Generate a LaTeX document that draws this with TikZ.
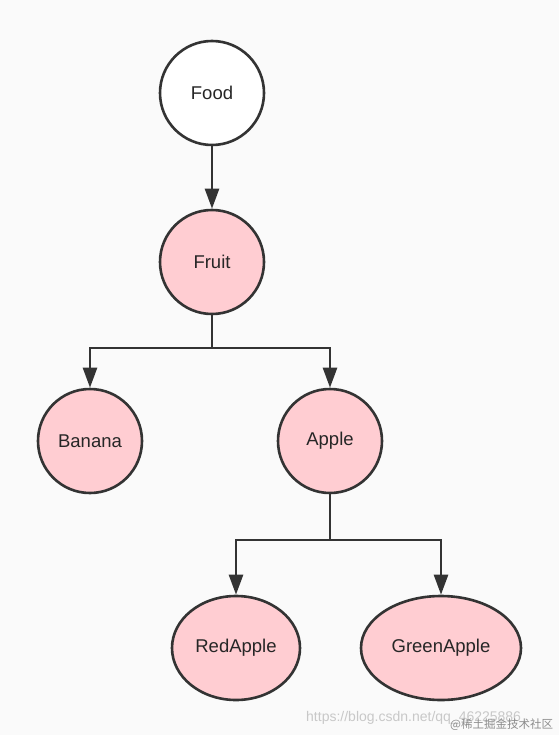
\documentclass[tikz,border=0pt]{standalone}
\usepackage{fontspec}
\setmainfont{Liberation Sans}
\newfontfamily\cjk{Noto Sans CJK SC}
\usetikzlibrary{shapes.geometric,arrows.meta}
\definecolor{bg}{RGB}{250,250,250}
\definecolor{pinkfill}{RGB}{255,205,210}
\definecolor{edge}{RGB}{51,51,51}
\definecolor{wmgray}{RGB}{200,200,200}
\begin{document}
\begin{tikzpicture}[x=1pt,y=-1pt,
  treenode/.style={draw=edge,line width=2.6pt,fill=pinkfill,circle,minimum size=104pt,inner sep=0pt,font=\fontsize{18.5}{22}\selectfont,text=black!85},
  ovalnode/.style={treenode,ellipse,minimum height=104pt},
  link/.style={draw=edge,line width=2.6pt},
  arr/.style={link,-{Triangle[width=14pt,length=20pt]}}]
\fill[bg] (0,0) rectangle (559,735);
\useasboundingbox (0,0) rectangle (559,735);
\node[treenode,fill=white] (food) at (212,93) {Food};
\node[treenode] (fruit) at (212,262) {Fruit};
\node[treenode] (banana) at (90,441) {Banana};
\node[treenode] (apple) at (330,441) {Apple};
\node[ovalnode,minimum width=128pt] (red) at (236,648) {RedApple};
\node[ovalnode,minimum width=160pt] (green) at (441,648) {GreenApple};
\coordinate (j1) at (212,348);
\coordinate (j2) at (330,540);
\draw[arr] (food.south) -- (fruit.north);
\draw[link] (fruit.south) -- (j1);
\draw[arr] (j1) -| (banana.north);
\draw[arr] (j1) -| (apple.north);
\draw[link] (apple.south) -- (j2);
\draw[arr] (j2) -| (red.north);
\draw[arr] (j2) -| (green.north);
\node[anchor=west,inner sep=0pt,text=wmgray,font=\fontsize{14}{16}\selectfont] (wm1) at (306,718) {https://blog.csdn.net/qq\_46225886};
\node[anchor=west,inner sep=0pt,text=black!45,font=\cjk\fontsize{11.5}{13}\selectfont] (wm2) at (450,725) {@稀土掘金技术社区};
\end{tikzpicture}
\end{document}
